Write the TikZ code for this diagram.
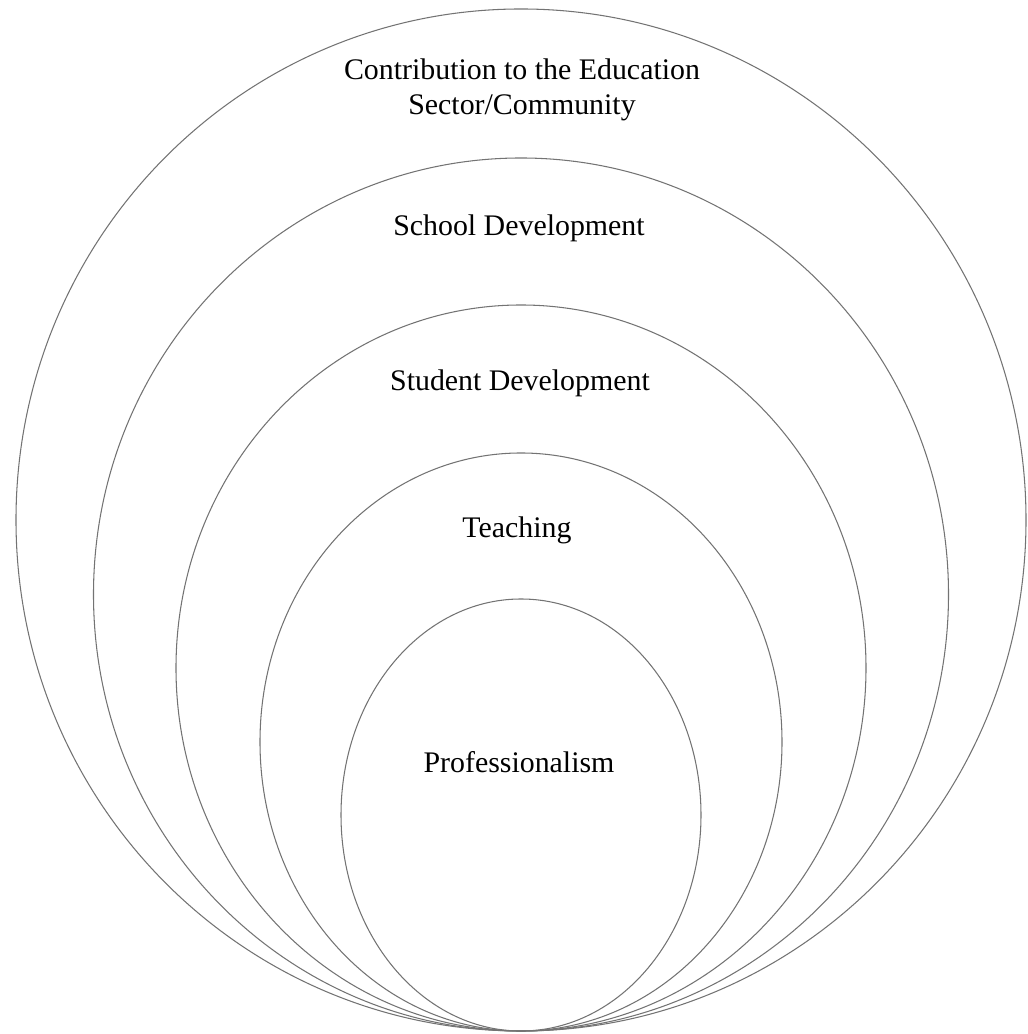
\documentclass[tikz,border=0pt]{standalone}
\usepackage{fontspec}
\setmainfont{Liberation Serif}
\usepackage{tikz}
\usepackage{tkz-euclide}
\usetikzlibrary{calc}

\tikzset{ring/.style={draw=black!55,line width=0.6pt},
         ringlabel/.style={font=\fontsize{17}{19.5}\selectfont,align=center,inner sep=0pt}}

\begin{document}
\begin{tikzpicture}[scale=1.0]
                \useasboundingbox (-10.42,-0.06) rectangle (10.12,20.62);

                \tkzDefPoint(0,10.22){C1}
                \tkzDefPoint(0,8.73){C2}
                \tkzDefPoint(0,7.26){C3}
                \tkzDefPoint(0,5.78){C4}
                \tkzDefPoint(0,4.32){C5}

                \draw[ring] (C1) ellipse [x radius=10.10, y radius=10.22];
                \draw[ring] (C2) ellipse [x radius=8.55, y radius=8.73];
                \draw[ring] (C3) ellipse [x radius=6.90, y radius=7.26];
                \draw[ring] (C4) ellipse [x radius=5.22, y radius=5.78];
                \draw[ring] (C5) ellipse [x radius=3.60, y radius=4.32];

                \tkzDefPoint(0.02,18.82){L1}
                \tkzDefPoint(-0.04,16.06){L2}
                \tkzDefPoint(-0.02,12.96){L3}
                \tkzDefPoint(-0.08,10.02){L4}
                \tkzDefPoint(-0.04,5.38){L5}

                \node[ringlabel] (contrib) at (L1) {Contribution to the Education\\Sector/Community};
                \node[ringlabel] (school) at (L2) {School Development};
                \node[ringlabel] (student) at (L3) {Student Development};
                \node[ringlabel] (teach) at (L4) {Teaching};
                \node[ringlabel] (prof) at (L5) {Professionalism};
            \end{tikzpicture}
\end{document}
